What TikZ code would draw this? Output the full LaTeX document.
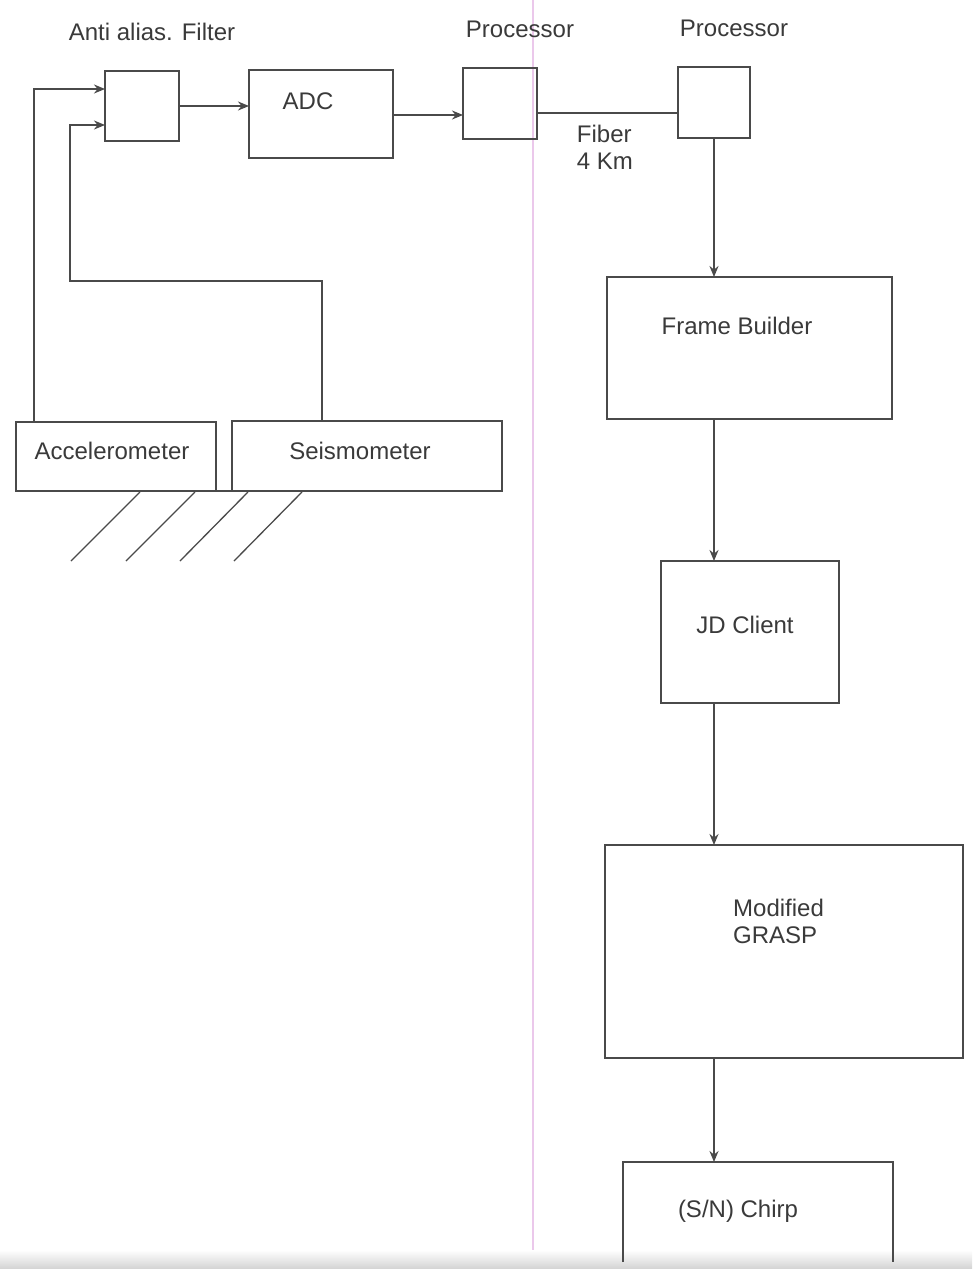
\documentclass[tikz,border=0pt]{standalone}
\usepackage{fontspec}
\setmainfont{Liberation Sans}
\usetikzlibrary{arrows.meta,calc}
\definecolor{linec}{HTML}{4A4A4A}
\definecolor{textc}{HTML}{3A3A3A}
\definecolor{scanpink}{HTML}{EBC8EB}
\begin{document}
\begin{tikzpicture}[x=1pt,y=-1pt,
  box/.style={draw=linec,line width=1.8pt,inner sep=0pt,outer sep=0pt,fill=none},
  lbl/.style={text=textc,font=\fontsize{24}{27}\selectfont,inner sep=0pt},
  wire/.style={draw=linec,line width=1.8pt},
  tip/.style={-{Stealth[length=11pt,width=9pt]}},
  arr/.style={wire,tip},
  hatch/.style={draw=linec,line width=1.3pt}]
\useasboundingbox (0,0) rectangle (972,1269);
\fill[white] (0,0) rectangle (972,1269);
% faint pink scan line and grey bottom band
\draw[scanpink,line width=1.2pt] (533,0) -- (533,1256);
\shade[top color=white,bottom color=gray!35] (0,1250) rectangle (972,1269);

% boxes
\node[box,minimum width=74pt,minimum height=70pt] (filt) at (142,106) {};
\node[box,minimum width=144pt,minimum height=88pt] (adc) at (321,114) {};
\node[box,minimum width=74pt,minimum height=71pt] (p1) at (500,103.5) {};
\node[box,minimum width=72pt,minimum height=71pt] (p2) at (714,102.5) {};
\node[box,minimum width=285pt,minimum height=142pt] (fb) at (749.5,348) {};
\node[box,minimum width=178pt,minimum height=142pt] (jd) at (750,632) {};
\node[box,minimum width=358pt,minimum height=213pt] (grasp) at (784,951.5) {};
\node[inner sep=0pt,outer sep=0pt,minimum width=270pt,minimum height=100pt] (chirp) at (758,1212) {};
\draw[wire] (chirp.south west) -- (chirp.north west) -- (chirp.north east) -- (chirp.south east);
\node[box,minimum width=200pt,minimum height=69pt] (acc) at (116,456.5) {};
\node[box,minimum width=270pt,minimum height=70pt] (seis) at (367,456) {};

% labels
\node[lbl] (tfilt) at (152,32) {Anti alias. Filter};
\node[lbl] (tadc) at (308,101) {ADC};
\node[lbl] (tp1) at (520,29) {Processor};
\node[lbl] (tp2) at (734,28) {Processor};
\node[lbl,align=left] (tfib) at (605,147) {Fiber\\4 Km};
\node[lbl] (tfb) at (737,326) {Frame Builder};
\node[lbl] (tjd) at (745,625) {JD Client};
\node[lbl,align=left,anchor=north west] (tgr) at (733,899) {Modified\\GRASP};
\node[lbl] (tch) at (738,1211) {(S/N) Chirp};
\node[lbl] (tacc) at (112,451) {Accelerometer};
\node[lbl] (tseis) at (360,451) {Seismometer};

% connectors
\coordinate (col) at (714,0);
\draw[arr] (filt.east) -- (filt.east -| adc.west);
\draw[arr] ($(adc.east)+(0,1)$) -- ($(adc.east -| p1.west)+(0,1)$);
\draw[wire] ($(p1.east)+(0,9.5)$) -- ($(p1.east -| p2.west)+(0,9.5)$);
\draw[arr] (p2.south) -- (p2.south |- fb.north);
\draw[arr] (col |- fb.south) -- (col |- jd.north);
\draw[arr] (col |- jd.south) -- (col |- grasp.north);
\draw[arr] (col |- grasp.south) -- (col |- chirp.north);

\coordinate (in1) at (filt.west |- 0,89);
\coordinate (in2) at (filt.west |- 0,125);
\coordinate (xa) at (34,0);
\coordinate (xb) at (70,0);
\coordinate (xs) at (322,0);
\draw[arr] (xa |- acc.north) -- (xa |- in1) -- (in1);
\draw[arr] (xs |- seis.north) -- (322,281) -- (70,281) -- (xb |- in2) -- (in2);

% ground
\draw[wire] (acc.south east) -- (seis.south west);
\draw[hatch] (140,492) -- (71,561);
\draw[hatch] (195,492) -- (126,561);
\draw[hatch] (248,492) -- (180,561);
\draw[hatch] (302,492) -- (234,561);
\end{tikzpicture}
\end{document}
